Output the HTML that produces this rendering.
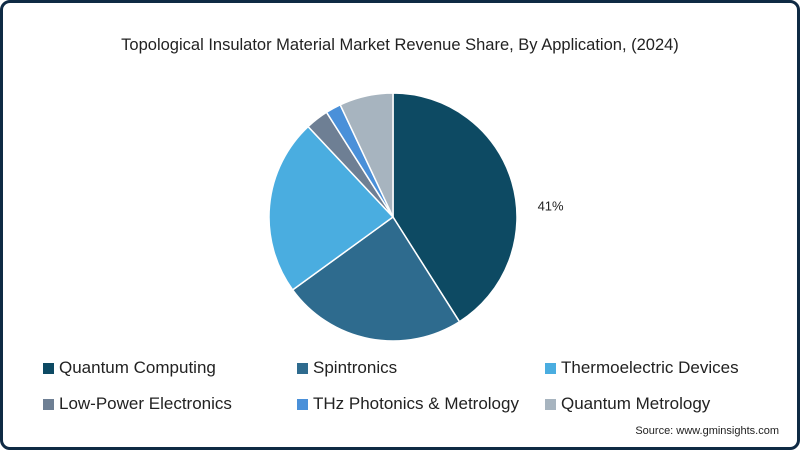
<!DOCTYPE html>
<html><head><meta charset="utf-8"><style>
body{margin:0;background:#fff;}
#wrap{position:relative;width:800px;height:450px;box-sizing:border-box;border:3px solid #0f2a44;border-radius:10px;overflow:hidden;background:#fff;font-family:"Liberation Sans",sans-serif;}
#title{position:absolute;top:33px;left:0;width:100%;text-align:center;font-size:16.5px;color:#222;}
.leg{position:absolute;font-size:17px;color:#222;display:flex;align-items:center;}
.sw{width:11px;height:11px;margin-right:5px;}
#src{position:absolute;right:18px;bottom:10px;font-size:11px;color:#222;}
</style></head><body>
<div id="wrap">
<div id="title">Topological Insulator Material Market Revenue Share, By Application, (2024)</div>
<svg id="pie" width="800" height="450" style="position:absolute;left:-3px;top:-3px"></svg>
<div class="leg" style="left:40px;top:355px"><span class="sw" style="background:#0d4a63"></span>Quantum Computing</div>
<div class="leg" style="left:294px;top:355px"><span class="sw" style="background:#2e6b8e"></span>Spintronics</div>
<div class="leg" style="left:542px;top:355px"><span class="sw" style="background:#4aade0"></span>Thermoelectric Devices</div>
<div class="leg" style="left:40px;top:391px"><span class="sw" style="background:#6e7f94"></span>Low-Power Electronics</div>
<div class="leg" style="left:294px;top:391px"><span class="sw" style="background:#4a90d9"></span>THz Photonics &amp; Metrology</div>
<div class="leg" style="left:542px;top:391px"><span class="sw" style="background:#a7b4bf"></span>Quantum Metrology</div>
<div id="src">Source: www.gminsights.com</div>
</div>
<script>
const categories=["Quantum Computing","Spintronics","Thermoelectric Devices","Low-Power Electronics","THz Photonics & Metrology","Quantum Metrology"];
const values=[41,24,23,3,2,7];
const labels=["41%","","","","",""];
const colors=["#0d4a63","#2e6b8e","#4aade0","#6e7f94","#4a90d9","#a7b4bf"];
const svg=document.getElementById('pie');
const NS="http://www.w3.org/2000/svg";
const cx=393,cy=217,r=124;
const total=values.reduce((a,b)=>a+b,0);
function pt(a,rr){return [cx+rr*Math.sin(a),cy-rr*Math.cos(a)];}
let a0=0;
values.forEach((v,i)=>{
  const a1=a0+v/total*2*Math.PI;
  const p0=pt(a0,r),p1=pt(a1,r);
  const large=(a1-a0)>Math.PI?1:0;
  const p=document.createElementNS(NS,'path');
  p.setAttribute('d',`M${cx},${cy}L${p0[0]},${p0[1]}A${r},${r} 0 ${large} 1 ${p1[0]},${p1[1]}Z`);
  p.setAttribute('fill',colors[i]);
  p.setAttribute('stroke','#fff');
  p.setAttribute('stroke-width','1.5');
  
  
  svg.appendChild(p);
  if(labels[i]){
    const m=(a0+a1)/2+0.21;const lp=pt(m,158);
    const t=document.createElementNS(NS,'text');
    t.setAttribute('x',lp[0]);t.setAttribute('y',lp[1]+5);
    t.setAttribute('text-anchor','middle');t.setAttribute('font-size','13');
    t.setAttribute('font-family','Liberation Sans, sans-serif');t.setAttribute('fill','#222');
    t.textContent=labels[i];
    
    
    svg.appendChild(t);
  }
  a0=a1;
});
</script>
</body></html>
